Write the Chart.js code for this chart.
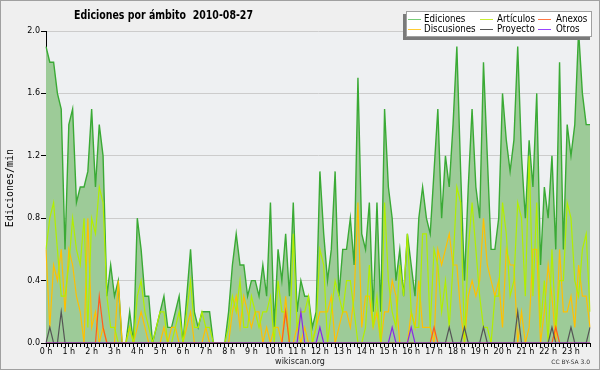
<!DOCTYPE html>
<html>
<head>
<meta charset="utf-8">
<script src="https://cdn.jsdelivr.net/npm/chart.js@4.4.1/dist/chart.umd.min.js"></script>
<style>
  html, body { margin: 0; padding: 0; background: #efefef; }
  canvas { display: block; }
</style>
</head>
<body>
<canvas id="grafAmbito" width="600" height="370"></canvas>
<script>
// Ediciones por ámbito - 2010-08-27, un valor cada 10 minutos (ediciones/min)
var horas = ['0 h', '1 h', '2 h', '3 h', '4 h', '5 h', '6 h', '7 h', '8 h', '9 h', '10 h', '11 h',
             '12 h', '13 h', '14 h', '15 h', '16 h', '17 h', '18 h', '19 h', '20 h', '21 h', '22 h', '23 h'];
var minutos = ['00', '10', '20', '30', '40', '50'];

var ediciones = [
  1.9, 1.8, 1.8, 1.6, 1.5, 0.6, 1.4, 1.5, 0.9, 1.0,
  1.0, 1.1, 1.5, 1.0, 1.4, 1.2, 0.3, 0.5, 0.3, 0.4,
  0, 0, 0.2, 0, 0.8, 0.6, 0.3, 0.3, 0, 0.1,
  0.2, 0.3, 0.1, 0.1, 0.2, 0.3, 0, 0.3, 0.6, 0.2,
  0.1, 0.2, 0.2, 0.2, 0, 0, 0, 0, 0.2, 0.5,
  0.7, 0.5, 0.5, 0.3, 0.4, 0.4, 0.3, 0.5, 0.3, 0.9,
  0.1, 0.6, 0.4, 0.7, 0.3, 0.9, 0.2, 0.4, 0.3, 0.3,
  0.1, 0.2, 1.1, 0.7, 0.4, 0.6, 1.1, 0.3, 0.6, 0.6,
  0.8, 0.5, 1.7, 0.7, 0.6, 0.9, 0.2, 0.9, 0.2, 1.5,
  1.0, 0.8, 0.4, 0.6, 0.3, 0.7, 0.5, 0.3, 0.8, 1.0,
  0.8, 0.7, 1.1, 1.5, 0.8, 1.2, 1.0, 1.4, 1.9, 1.1,
  0.4, 1.0, 1.5, 1.0, 0.8, 1.8, 1.2, 0.6, 0.6, 0.8,
  1.6, 1.3, 1.1, 1.3, 1.9, 1.2, 0.8, 1.3, 1.0, 1.6,
  0.5, 1.0, 0.8, 1.2, 0.6, 1.8, 0.6, 1.4, 1.2, 1.4,
  2.0, 1.6, 1.4, 1.4
];
var articulos = [
  0.6, 0.8, 0.9, 0.6, 0.3, 0.3, 0.5, 0.8, 0.6, 0.5,
  0.8, 0.1, 0.8, 0.7, 1.0, 0.9, 0.3, 0.1, 0.1, 0,
  0, 0, 0.1, 0, 0.3, 0.4, 0.2, 0.1, 0, 0.1,
  0.2, 0.2, 0, 0, 0.1, 0.2, 0, 0.2, 0.4, 0.1,
  0.1, 0.2, 0.1, 0.1, 0, 0, 0, 0, 0.1, 0.3,
  0.2, 0.4, 0.1, 0.1, 0.3, 0.2, 0.1, 0.2, 0.2, 0.3,
  0, 0.4, 0.2, 0.2, 0, 0.7, 0.1, 0.2, 0.2, 0.3,
  0, 0.1, 0.6, 0.5, 0, 0.2, 0.4, 0.3, 0.2, 0.4,
  0.4, 0.2, 0, 0, 0.1, 0.5, 0.1, 0.3, 0, 0.9,
  0.4, 0.2, 0.1, 0.5, 0.3, 0.7, 0.2, 0.1, 0.1, 0.7,
  0.7, 0.1, 0.6, 0.5, 0.2, 0.4, 0.1, 0.5, 1.0, 0.9,
  0, 0.6, 0.9, 0.6, 0.3, 0.1, 0.1, 0, 0.3, 0.3,
  0.9, 0.7, 0.3, 0.4, 0.9, 0.8, 0.3, 1.2, 0.3, 0.9,
  0.1, 0.4, 0, 0.6, 0.1, 0.4, 0.4, 0.9, 0.8, 0.4,
  0.3, 0.6, 0.7, 0.2
];
var discusiones = [
  0.6, 0.1, 0.5, 0.4, 0.6, 0.2, 0.6, 0.5, 0.3, 0.2,
  0, 0.8, 0.1, 0.2, 0, 0.1, 0, 0, 0, 0.4,
  0, 0, 0.1, 0, 0.1, 0.2, 0.1, 0, 0, 0,
  0, 0.1, 0, 0.1, 0.1, 0, 0, 0.1, 0.2, 0,
  0, 0, 0.1, 0, 0, 0, 0, 0, 0, 0.2,
  0.3, 0.1, 0.3, 0.2, 0.1, 0.2, 0.2, 0, 0.1, 0,
  0.1, 0.1, 0, 0.3, 0, 0, 0.1, 0, 0.1, 0,
  0, 0.1, 0.2, 0.2, 0.2, 0.3, 0, 0.1, 0.2, 0.2,
  0.1, 0.3, 0.9, 0.1, 0.3, 0.3, 0.1, 0.2, 0, 0.2,
  0.2, 0.4, 0.3, 0, 0, 0, 0.2, 0.1, 0.4, 0.1,
  0.1, 0.1, 0, 0.6, 0.5, 0.6, 0.7, 0.5, 0.5, 0.2,
  0, 0.3, 0.4, 0.3, 0.4, 0.8, 0.5, 0.4, 0.3, 0.4,
  0.1, 0.6, 0.5, 0.5, 0, 0.2, 0, 0.1, 0.6, 0.6,
  0, 0.2, 0.5, 0.3, 0, 0.6, 0.2, 0.2, 0.3, 0.1,
  0.5, 0.3, 0.3, 0.1
];
// series casi vacias: [indice de franja, valor]
var anexosPicos = [[14, 0.3], [15, 0.1], [63, 0.2], [102, 0.1], [134, 0.1]];
var proyectoPicos = [[1, 0.1], [4, 0.2], [106, 0.1], [110, 0.1], [115, 0.1], [124, 0.2], [133, 0.1], [138, 0.1], [143, 0.1]];
var otrosPicos = [[67, 0.2], [72, 0.1], [91, 0.1], [96, 0.1]];

var franjas = [];
horas.forEach(function (h) {
  minutos.forEach(function (m) { franjas.push(h.replace(' h', '') + ':' + m); });
});

function desdePicos(picos) {
  var serie = franjas.map(function () { return 0; });
  picos.forEach(function (p) { serie[p[0]] = p[1]; });
  return serie;
}

var colores = {
  'Ediciones': '#3aaa35',
  'Artículos': '#b2ee00',
  'Anexos': '#ff5c1e',
  'Discusiones': '#ffc000',
  'Proyecto': '#555555',
  'Otros': '#8a2be2'
};
// la leyenda usa tonos algo mas claros
var coloresLeyenda = {
  'Ediciones': '#77cc77',
  'Artículos': '#c8ee33',
  'Anexos': '#ff7744',
  'Discusiones': '#ffcc33',
  'Proyecto': '#555555',
  'Otros': '#9944ff'
};
var ordenLeyenda = [['Ediciones', 'Artículos', 'Anexos'], ['Discusiones', 'Proyecto', 'Otros']];

function serieLinea(nombre, datos, orden) {
  return {
    label: nombre,
    data: datos,
    borderColor: colores[nombre],
    borderWidth: 1.2,
    pointRadius: 0,
    tension: 0,
    fill: false,
    order: orden
  };
}

// la fuente original es condensada: se estrecha el texto en horizontal
function textoEstrecho(ctx, txt, x, y, factor) {
  ctx.save();
  ctx.translate(x, y);
  ctx.scale(factor, 1);
  ctx.fillText(txt, 0, 0);
  ctx.restore();
}

var decorado = {
  id: 'decorado',
  beforeDraw: function (chart) {
    var ctx = chart.ctx, a = chart.chartArea;
    ctx.save();
    ctx.fillStyle = '#efefef';
    ctx.fillRect(0, 0, chart.width, chart.height);
    ctx.fillStyle = '#eef0f2';
    ctx.fillRect(a.left, a.top, a.right - a.left, a.bottom - a.top);
    ctx.restore();
  },
  afterDraw: function (chart) {
    var ctx = chart.ctx;
    ctx.save();
    // titulo
    ctx.fillStyle = '#000';
    ctx.font = 'bold 13px "DejaVu Sans", sans-serif';
    ctx.textBaseline = 'alphabetic';
    ctx.textAlign = 'left';
    var titulo = 'Ediciones por ámbito  2010-08-27';
    textoEstrecho(ctx, titulo, 74, 19, 179 / ctx.measureText(titulo).width);

    // titulo eje y
    ctx.save();
    ctx.translate(13, 188);
    ctx.rotate(-Math.PI / 2);
    ctx.textAlign = 'center';
    ctx.font = '10px "DejaVu Sans Mono", monospace';
    ctx.fillText('Ediciones/min', 0, 0);
    ctx.restore();

    // leyenda con sombra
    ctx.fillStyle = '#7a7a7a';
    ctx.fillRect(403, 14, 187, 26);
    ctx.fillStyle = '#ffffff';
    ctx.fillRect(406, 11, 186, 26);
    ctx.strokeStyle = '#a0a0a0';
    ctx.lineWidth = 1;
    ctx.strokeRect(406.5, 11.5, 185, 25);
    var xLinea = [408, 480, 538], xTexto = [424, 497, 556], yFila = [19.5, 29.5];
    ctx.font = '10px "DejaVu Sans", sans-serif';
    ctx.textBaseline = 'middle';
    ordenLeyenda.forEach(function (fila, r) {
      fila.forEach(function (nombre, c) {
        ctx.strokeStyle = coloresLeyenda[nombre];
        ctx.beginPath();
        ctx.moveTo(xLinea[c], yFila[r]);
        ctx.lineTo(xLinea[c] + 13, yFila[r]);
        ctx.stroke();
        ctx.fillStyle = '#000';
        textoEstrecho(ctx, nombre, xTexto[c], yFila[r], 0.87);
      });
    });

    // pie
    ctx.textBaseline = 'alphabetic';
    ctx.textAlign = 'center';
    ctx.fillStyle = '#222';
    ctx.font = '8px "DejaVu Sans", sans-serif';
    ctx.fillText('wikiscan.org', 300, 364);
    ctx.textAlign = 'right';
    ctx.font = '6px "DejaVu Sans", sans-serif';
    ctx.fillStyle = '#333';
    ctx.fillText('CC BY-SA 3.0', 590, 364);

    // marco
    ctx.strokeStyle = '#a0a0a0';
    ctx.strokeRect(0.5, 0.5, chart.width - 1, chart.height - 1);
    ctx.restore();
  }
};

new Chart(document.getElementById('grafAmbito'), {
  type: 'line',
  data: {
    labels: franjas,
    datasets: [
      {
        label: 'Ediciones',
        data: ediciones,
        borderColor: colores['Ediciones'],
        backgroundColor: '#9dcb98',
        borderWidth: 1.4,
        pointRadius: 0,
        tension: 0,
        fill: 'origin',
        order: 6
      },
      serieLinea('Discusiones', discusiones, 5),
      serieLinea('Artículos', articulos, 4),
      serieLinea('Anexos', desdePicos(anexosPicos), 3),
      serieLinea('Proyecto', desdePicos(proyectoPicos), 2),
      serieLinea('Otros', desdePicos(otrosPicos), 1)
    ]
  },
  options: {
    responsive: false,
    animation: false,
    devicePixelRatio: 1,
    layout: { padding: { left: 0, top: 31, right: 10, bottom: 0 } },
    plugins: {
      legend: { display: false },
      title: { display: false },
      tooltip: { enabled: false }
    },
    scales: {
      x: {
        offset: false,
        afterFit: function (s) { s.height = 27; },
        grid: { drawOnChartArea: false, tickLength: 4, tickColor: '#000' },
        border: { color: '#000', width: 1 },
        ticks: {
          autoSkip: false,
          maxRotation: 0,
          padding: 0,
          color: '#000',
          font: { family: '"DejaVu Sans", sans-serif', size: 8 },
          callback: function (v, i) { return i % 6 === 0 ? horas[i / 6] : ''; }
        }
      },
      y: {
        min: 0,
        max: 2,
        afterFit: function (s) { s.width = 46; },
        grid: { color: '#cccccc', tickLength: 5, tickColor: '#000' },
        border: { color: '#000', width: 1 },
        ticks: {
          stepSize: 0.4,
          padding: 1,
          color: '#000',
          font: { family: '"DejaVu Sans", sans-serif', size: 8 },
          callback: function (v) { return v.toFixed(1); }
        }
      }
    }
  },
  plugins: [decorado]
});
</script>
</body>
</html>
